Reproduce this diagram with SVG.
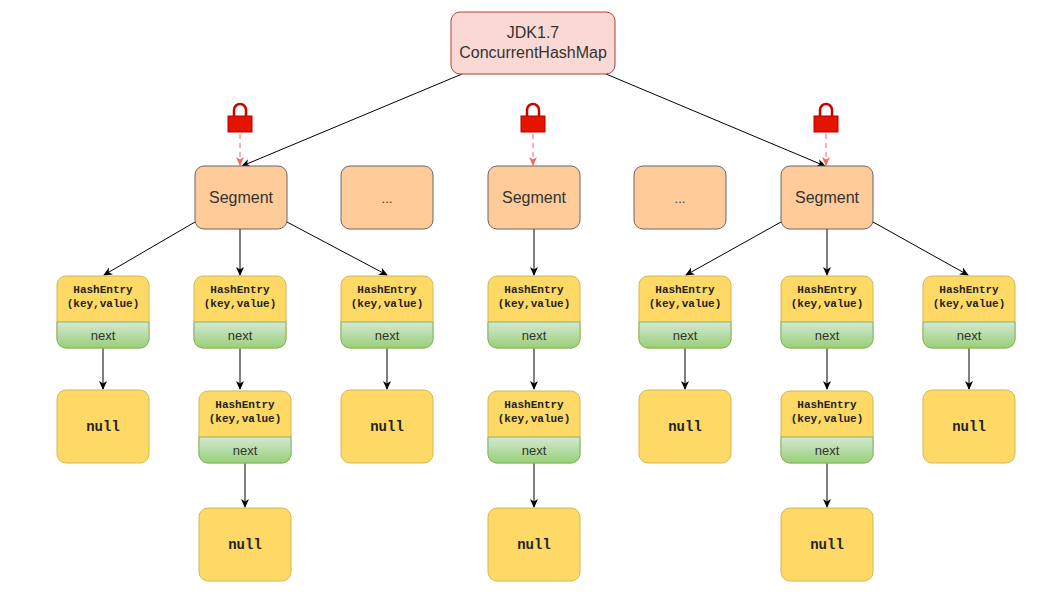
<svg xmlns="http://www.w3.org/2000/svg" width="1060" height="594" viewBox="0 0 1060 594">
<defs>
<marker id="a" markerWidth="10" markerHeight="10" refX="8" refY="5" orient="auto" markerUnits="userSpaceOnUse"><path d="M0,1 L9,5 L0,9 L2.5,5 Z" fill="#000"/></marker>
<marker id="r" markerWidth="10" markerHeight="10" refX="8" refY="5" orient="auto" markerUnits="userSpaceOnUse"><path d="M0,1 L9,5 L0,9 L2.5,5 Z" fill="#ea6b66"/></marker>
<g id="lock"><path d="M-6,0 V-6 A6,6 0 0 1 6,-6 V0" fill="none" stroke="#c00" stroke-width="2.5"/><rect x="-12" y="0" width="24" height="16" fill="#e51400" stroke="#b20000"/></g>
<g id="he"><rect x="0" y="0" width="92" height="72" rx="9" fill="#ffd966" stroke="#d6b656"/><path d="M0,46 H92 V63 A9,9 0 0 1 83,72 H9 A9,9 0 0 1 0,63 Z" fill="url(#g)" stroke="#82b366"/><text x="46" y="17" class="m">HashEntry</text><text x="46" y="31" class="m">(key,value)</text><text x="46" y="64" class="s">next</text></g>
<linearGradient id="g" x1="0" y1="0" x2="0" y2="1"><stop offset="0" stop-color="#d5e8d4"/><stop offset="1" stop-color="#97d077"/></linearGradient>
<g id="nl"><rect x="0" y="0" width="92" height="73" rx="9" fill="#ffd966" stroke="#d6b656"/><text x="46" y="41" class="n">null</text></g>
</defs>
<style>
text{text-anchor:middle;fill:#333}
.s{font-family:"Liberation Sans",Arial,sans-serif;font-size:13px}
.l{font-family:"Liberation Sans",Arial,sans-serif;font-size:16px}
.m{font-family:"Liberation Mono",monospace;font-size:11px;font-weight:bold;fill:#222}
.n{font-family:"Liberation Mono",monospace;font-size:14px;font-weight:bold;fill:#222}
.seg{fill:#ffcc99;stroke:#666}
</style>
<rect width="1060" height="594" fill="#fff"/>
<g id="connectors" stroke="#000" fill="none" marker-end="url(#a)">
<path d="M462,74 L242,166"/><path d="M606,74 L825,166"/>
<path d="M195,222 L104,275"/><path d="M240,229 V275"/><path d="M287,222 L387,275"/>
<path d="M534,229 V275"/>
<path d="M781,222 L686,275"/><path d="M827,229 V275"/><path d="M873,222 L968,275"/>
<path d="M103,348 V389"/><path d="M240,348 V389"/><path d="M387,348 V389"/><path d="M534,348 V389"/><path d="M685,348 V389"/><path d="M827,348 V389"/><path d="M969,348 V389"/>
<path d="M245,463 V507"/><path d="M534,463 V507"/><path d="M827,463 V507"/>
<g stroke="#ea6b66" stroke-dasharray="5 4" marker-end="url(#r)"><path d="M240,134 V165"/><path d="M533,134 V165"/><path d="M826,134 V165"/></g>
</g>
<g id="root"><rect x="451" y="12" width="164" height="62" rx="9" fill="#fad9d5" stroke="#ae4132"/><text x="533" y="38" class="l">JDK1.7</text><text x="533" y="58" class="l">ConcurrentHashMap</text></g>
<g id="locks"><use href="#lock" x="240" y="116"/><use href="#lock" x="533" y="116"/><use href="#lock" x="826" y="116"/></g>
<g id="seg1"><rect class="seg" x="195" y="166" width="92" height="63" rx="9"/><text x="241" y="203" class="l">Segment</text></g>
<g id="dots1"><rect class="seg" x="341" y="166" width="92" height="63" rx="9"/><text x="387" y="203" class="s">...</text></g>
<g id="seg2"><rect class="seg" x="488" y="166" width="92" height="63" rx="9"/><text x="534" y="203" class="l">Segment</text></g>
<g id="dots2"><rect class="seg" x="634" y="166" width="92" height="63" rx="9"/><text x="680" y="203" class="s">...</text></g>
<g id="seg3"><rect class="seg" x="781" y="166" width="92" height="63" rx="9"/><text x="827" y="203" class="l">Segment</text></g>
<g id="he1"><use href="#he" x="57" y="276"/></g>
<g id="he2"><use href="#he" x="194" y="276"/></g>
<g id="he3"><use href="#he" x="341" y="276"/></g>
<g id="he4"><use href="#he" x="488" y="276"/></g>
<g id="he5"><use href="#he" x="639" y="276"/></g>
<g id="he6"><use href="#he" x="781" y="276"/></g>
<g id="he7"><use href="#he" x="923" y="276"/></g>
<g id="he8"><use href="#he" x="199" y="391"/></g>
<g id="he9"><use href="#he" x="488" y="391"/></g>
<g id="he10"><use href="#he" x="781" y="391"/></g>
<g id="null1"><use href="#nl" x="57" y="390"/></g>
<g id="null2"><use href="#nl" x="341" y="390"/></g>
<g id="null3"><use href="#nl" x="639" y="390"/></g>
<g id="null4"><use href="#nl" x="923" y="390"/></g>
<g id="null5"><use href="#nl" x="199" y="508"/></g>
<g id="null6"><use href="#nl" x="488" y="508"/></g>
<g id="null7"><use href="#nl" x="781" y="508"/></g>
</svg>
